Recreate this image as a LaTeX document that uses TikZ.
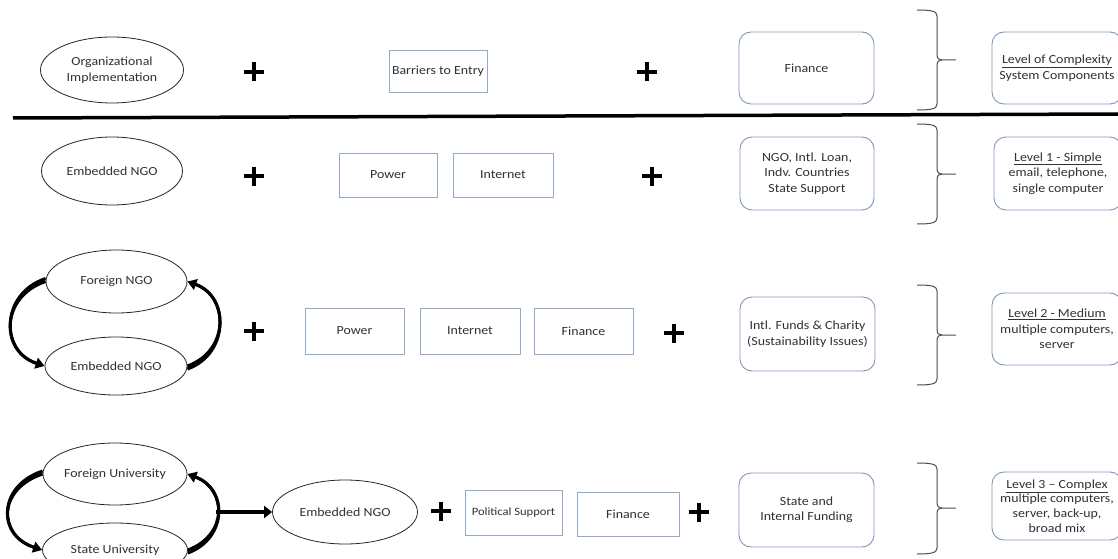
\documentclass[tikz,border=0pt]{standalone}
\usepackage{fontspec}
\setmainfont[FakeStretch=1.12]{Carlito}
\usetikzlibrary{shapes.geometric,arrows.meta}
\definecolor{txt}{RGB}{50,50,50}
\definecolor{boxblue}{RGB}{145,170,200}
\definecolor{rboxblue}{RGB}{125,152,185}
\newcommand\mybrace[3]{%
  \pgfmathsetmacro\bm{#2-#1}\pgfmathsetmacro\bb{#3-#1}%
  \draw[bracestyle,shift={(917,#1)}] (0,0) .. controls (14,0) and (20,1) .. (20,6) -- (20,\bm-6)
    .. controls (20,\bm-1) and (22,\bm) .. (25,\bm) -- (39,\bm)
    (25,\bm) .. controls (22,\bm) and (20,\bm+1) .. (20,\bm+6) -- (20,\bb-6)
    .. controls (20,\bb-1) and (14,\bb) .. (0,\bb);}
\newcommand\plusmark[2]{\draw[plusst,shift={(#1,#2)}] (0,-9.5) -- (0,9.5) (-10,0) -- (10,0);}
\begin{document}
\begin{tikzpicture}[x=1pt,y=-1pt,
  every node/.style={text=txt, font=\fontsize{12.4}{15.5}\selectfont, align=center, inner sep=0pt},
  oval/.style={ellipse, draw=black!85, line width=0.8pt},
  sqbox/.style={rectangle, draw=boxblue, line width=0.8pt},
  rbox/.style={rectangle, rounded corners=12pt, draw=rboxblue, line width=0.9pt},
  bracestyle/.style={draw=black!70, line width=1pt},
  plusst/.style={draw=black, line width=4.5pt},
  curvarrow/.style={draw=black, line width=3pt, -{Triangle[length=9pt,width=11pt]}},
  taper/.style={draw=black, line width=3pt, shorten >=9pt},
  straightarrow/.style={draw=black, line width=4.5pt, -{Triangle[length=8pt,width=12pt]}}]
\useasboundingbox (0,0) rectangle (1118,559);
\fill[white] (0,0) rectangle (1118,559);
\clip (0,0) rectangle (1118,559);

% separator
\draw[line width=3.5pt] (13,118) -- (1118,114);

% ---- row 0
\node[oval, minimum width=143pt, minimum height=66pt] (oi) at (112,70) {Organizational\\Implementation};
\plusmark{254}{72}
\node[sqbox, minimum width=98pt, minimum height=42pt] (bte) at (438,71) {Barriers to Entry};
\plusmark{647}{72}
\node[rbox, minimum width=135pt, minimum height=72pt] (fin0) at (806.5,68) {Finance};
\mybrace{10}{60}{110}
\node[rbox, minimum width=130pt, minimum height=72pt] (loc) at (1057,68) {\underline{Level of Complexity}\\System Components};

% ---- row 1
\node[oval, minimum width=141pt, minimum height=68pt] (e1) at (112,171) {Embedded NGO};
\plusmark{254}{176}
\node[sqbox, minimum width=98pt, minimum height=44pt] (pow1) at (388,175) {Power};
\node[sqbox, minimum width=100pt, minimum height=44pt] (int1) at (503,175) {Internet};
\plusmark{652}{176}
\node[rbox, minimum width=134pt, minimum height=73pt] (ngo1) at (807,173.5) {NGO, Intl. Loan,\\Indv. Countries\\State Support};
\mybrace{124}{174}{224}
\node[rbox, minimum width=128pt, minimum height=73pt] (lvl1) at (1058,173.5) {\underline{Level 1 - Simple}\\email, telephone,\\single computer};

% ---- row 2
\node[oval, minimum width=141pt, minimum height=63pt] (fngo) at (116.5,281.5) {Foreign NGO};
\node[oval, minimum width=142pt, minimum height=58pt] (engo2) at (116,366) {Embedded NGO};
\draw[curvarrow] (fngo.west) .. controls +(-45,15) and +(-45,-15) .. (engo2.west);
\draw[taper] ([yshift=3pt]fngo.west) .. controls +(-45,15) and +(-45,-15) .. (engo2.west);
\draw[curvarrow] (engo2.east) .. controls +(42,-15) and +(42,15) .. (fngo.east);
\draw[taper] ([yshift=-3pt]engo2.east) .. controls +(42,-15) and +(42,15) .. (fngo.east);
\plusmark{254}{331}
\node[sqbox, minimum width=99pt, minimum height=46pt] (pow2) at (354.5,331) {Power};
\node[sqbox, minimum width=100pt, minimum height=46pt] (int2) at (470,331) {Internet};
\node[sqbox, minimum width=99pt, minimum height=46pt] (fin2) at (583.5,331) {Finance};
\plusmark{674}{333}
\node[rbox, minimum width=135pt, minimum height=74pt] (funds) at (807.5,334) {Intl. Funds \& Charity\\(Sustainability Issues)};
\mybrace{285}{335}{385}
\node[rbox, minimum width=130pt, minimum height=72pt] (lvl2) at (1057,329) {\underline{Level 2 - Medium}\\multiple computers,\\server};

% ---- row 3
\node[oval, minimum width=140pt, minimum height=62pt] (fu) at (115,474) {Foreign University};
\node[oval, minimum width=145pt, minimum height=54pt] (su) at (115,550) {State University};
\draw[curvarrow] (fu.west) .. controls +(-45,15) and +(-45,-15) .. (su.west);
\draw[taper] ([yshift=3pt]fu.west) .. controls +(-45,15) and +(-45,-15) .. (su.west);
\draw[curvarrow] (su.east) .. controls +(40,-15) and +(40,15) .. (fu.east);
\draw[taper] ([yshift=-3pt]su.east) .. controls +(40,-15) and +(40,15) .. (fu.east);
\node[oval, minimum width=145pt, minimum height=64pt] (eng3) at (345,512) {Embedded NGO};
\coordinate (arcpt) at (216,512);
\draw[straightarrow] (arcpt) -- (eng3.west);
\plusmark{441}{511}
\node[sqbox, minimum width=97pt, minimum height=45pt, font=\fontsize{11.2}{14}\selectfont] (pol) at (513.5,512.5) {Political Support};
\node[sqbox, minimum width=102pt, minimum height=44pt] (fin3) at (628,514) {Finance};
\plusmark{699}{512}
\node[rbox, minimum width=135pt, minimum height=74pt] (state) at (806.5,510) {State and\\Internal Funding};
\mybrace{463}{508}{554}
\node[rbox, minimum width=130pt, minimum height=68pt, font=\fontsize{12.4}{14.6}\selectfont] (lvl3) at (1057,506) {\underline{Level 3 – Complex}\\multiple computers,\\server, back-up,\\broad mix};
\end{tikzpicture}
\end{document}
